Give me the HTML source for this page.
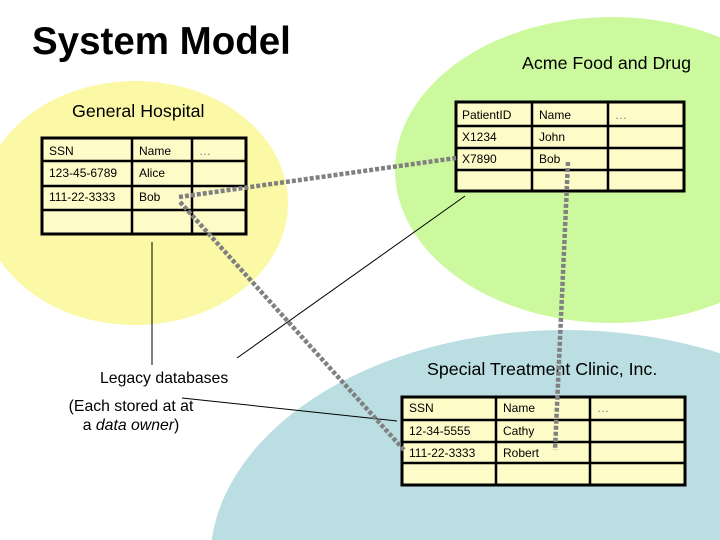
<!DOCTYPE html>
<html><head><style>
html,body{margin:0;padding:0;width:720px;height:540px;overflow:hidden;background:#fff;font-family:"Liberation Sans",sans-serif;}
svg{display:block;overflow:hidden;}
</style></head><body>
<svg width="720" height="540" viewBox="0 0 720 540" xmlns="http://www.w3.org/2000/svg" font-family="Liberation Sans, sans-serif">
<defs><clipPath id="c"><rect x="0" y="0" width="720" height="540"/></clipPath></defs>
<g clip-path="url(#c)">
<ellipse cx="135" cy="203" rx="153" ry="122" fill="#fbf8a6"/>
<ellipse cx="612" cy="170" rx="217" ry="153" fill="#ccf99d"/>
<ellipse cx="565" cy="562" rx="355" ry="232" fill="#badee2"/>
</g>
<text x="32" y="54" font-size="38.5" font-weight="bold">System Model</text>
<text x="522" y="69" font-size="17.8">Acme Food and Drug</text>
<text x="72" y="117" font-size="17.8">General Hospital</text>
<text x="427" y="375" font-size="17.8">Special Treatment Clinic, Inc.</text>
<text x="100" y="383" font-size="15.8">Legacy databases</text>
<text x="131" y="411" font-size="15.8" text-anchor="middle">(Each stored at at</text>
<text x="131" y="430" font-size="15.8" text-anchor="middle">a <tspan font-style="italic">data owner</tspan>)</text>
<g fill="#fdfbc8" stroke="#000" stroke-width="3">
<rect x="42" y="138" width="204" height="96"/>
<rect x="456" y="102" width="228" height="89"/>
<rect x="402" y="397" width="283" height="88"/>
</g>
<g stroke="#000" stroke-width="2.5">
<line x1="132" y1="138" x2="132" y2="234"/><line x1="192" y1="138" x2="192" y2="234"/>
<line x1="42" y1="161" x2="246" y2="161"/><line x1="42" y1="186" x2="246" y2="186"/><line x1="42" y1="210" x2="246" y2="210"/>
<line x1="532" y1="102" x2="532" y2="191"/><line x1="608" y1="102" x2="608" y2="191"/>
<line x1="456" y1="126" x2="684" y2="126"/><line x1="456" y1="148" x2="684" y2="148"/><line x1="456" y1="170" x2="684" y2="170"/>
<line x1="496" y1="397" x2="496" y2="485"/><line x1="590" y1="397" x2="590" y2="485"/>
<line x1="402" y1="420" x2="685" y2="420"/><line x1="402" y1="442" x2="685" y2="442"/><line x1="402" y1="463" x2="685" y2="463"/>
</g>
<g font-size="12" fill="#000">
<text x="49" y="155">SSN</text><text x="139" y="155">Name</text><text x="199" y="155" fill="#777">…</text>
<text x="49" y="177">123-45-6789</text><text x="139" y="177">Alice</text>
<text x="49" y="201">111-22-3333</text><text x="139" y="201">Bob</text>
<text x="462" y="119">PatientID</text><text x="539" y="119">Name</text><text x="615" y="119" fill="#777">…</text>
<text x="462" y="141">X1234</text><text x="539" y="141">John</text>
<text x="462" y="163">X7890</text><text x="539" y="163">Bob</text>
<text x="409" y="412">SSN</text><text x="503" y="412">Name</text><text x="597" y="412" fill="#777">…</text>
<text x="409" y="435">12-34-5555</text><text x="503" y="435">Cathy</text>
<text x="409" y="457">111-22-3333</text><text x="503" y="457">Robert</text>
</g>
<g stroke="#000" stroke-width="1">
<line x1="152" y1="242" x2="152" y2="365"/>
<line x1="465" y1="196" x2="237" y2="358"/>
<line x1="182" y1="398" x2="397" y2="421"/>
</g>
<g stroke="#808080" stroke-width="4.5" stroke-dasharray="4,2" fill="none">
<line x1="179" y1="197" x2="456" y2="158"/>
<line x1="180" y1="202" x2="404" y2="450"/>
<line x1="568" y1="162" x2="555" y2="450"/>
</g>
</svg>
</body></html>
